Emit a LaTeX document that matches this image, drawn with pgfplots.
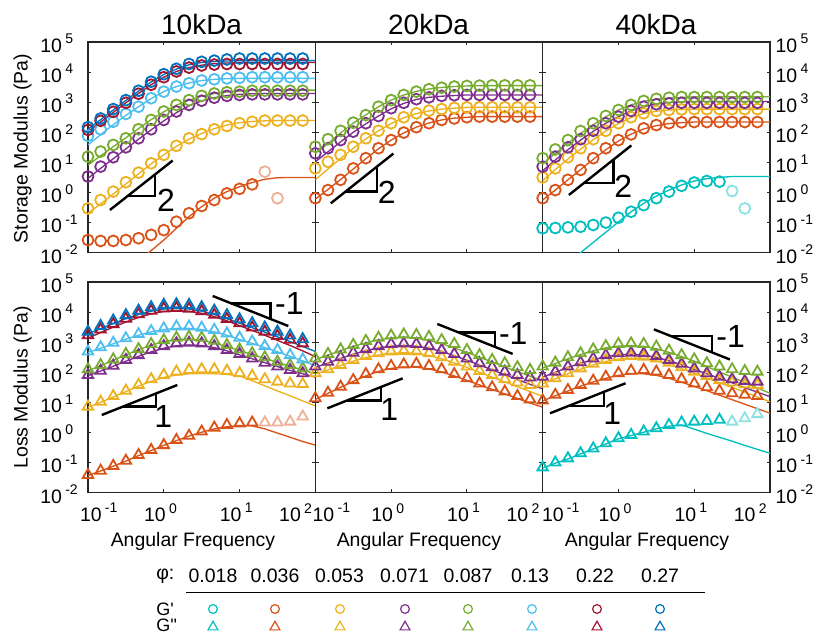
\documentclass[border=0pt]{standalone}
\usepackage{fontspec}
\setmainfont{Liberation Sans}
\newfontfamily\plainsans{Liberation Sans}
\usepackage{pgfplots}
\usepackage{pgfplotstable}
\pgfplotsset{compat=1.18}

% MATLAB default colour order, plus cyan for the lowest phi
\definecolor{cC}{rgb}{0,0.75,0.75}
\definecolor{cO}{rgb}{0.85,0.325,0.098}
\definecolor{cY}{rgb}{0.929,0.694,0.125}
\definecolor{cP}{rgb}{0.494,0.184,0.556}
\definecolor{cG}{rgb}{0.466,0.674,0.188}
\definecolor{cL}{rgb}{0.301,0.745,0.933}
\definecolor{cR}{rgb}{0.635,0.078,0.184}
\definecolor{cB}{rgb}{0,0.447,0.741}
\definecolor{axc}{rgb}{0.15,0.15,0.15}

\newcommand{\tickfont}{\fontsize{14.6}{16}\selectfont}
\newcommand{\slopefont}{\fontsize{24}{28}\selectfont}
\newcommand{\lbl}[1]{10\hspace{2.5pt}\raisebox{6.5pt}{\fontsize{10.5}{11}\selectfont #1}}
% x tick labels placed as MATLAB does: first one starts near the tick, last one ends at it
\newcommand{\lblA}[2]{\makebox[0pt][l]{\hspace{#1}\lbl{#2}}}
\newcommand{\lblB}[1]{\makebox[0pt][c]{\lbl{#1}\hspace{5pt}}}
\newcommand{\lblC}[1]{\makebox[0pt][r]{\lbl{#1}\hspace{2.5pt}}}

\pgfplotsset{
  rhmk/.style={only marks, mark=o, mark size=4.1pt, line width=1.35pt},
  rhtri/.style={only marks, mark=triangle, mark size=4.5pt, line width=1.35pt},
  rhfit/.style={no markers, line width=1pt, line join=round},
  rhslope/.style={black, no markers, line width=1.8pt},
}

% ---------- 10kDa, storage modulus ----------
\pgfplotstableread{
x o y p g l r b
0.1     2.63e-2 2.95e-1 3.39   1.55e1 7.59e1 1.20e2 1.48e2
0.1468  2.45e-2 5.62e-1 7.24   2.29e1 1.26e2 2.40e2 2.88e2
0.2154  2.45e-2 1.07    1.48e1 3.80e1 2.24e2 4.79e2 5.89e2
0.3162  2.63e-2 2.19    3.16e1 6.31e1 4.07e2 9.55e2 1.17e3
0.4642  3.02e-2 4.57    6.31e1 1.26e2 7.08e2 1.91e3 2.40e3
0.6813  3.89e-2 9.33    1.26e2 2.57e2 1.35e3 3.80e3 4.79e3
1       5.62e-2 1.78e1  2.57e2 4.90e2 2.24e3 6.76e3 8.51e3
1.468   1.07e-1 3.55e1  4.90e2 8.13e2 3.31e3 1.05e4 1.29e4
2.154   2.04e-1 6.31e1  8.13e2 1.17e3 4.27e3 1.41e4 1.86e4
3.162   3.55e-1 8.71e1  1.12e3 1.62e3 5.25e3 1.66e4 2.19e4
4.642   5.62e-1 1.26e2  1.41e3 1.95e3 5.75e3 1.78e4 2.40e4
6.813   9.33e-1 1.62e2  1.62e3 2.14e3 6.17e3 1.86e4 2.63e4
10      1.32    2.00e2  1.74e3 2.24e3 6.46e3 1.86e4 2.82e4
14.68   1.86    2.24e2  1.82e3 2.40e3 6.76e3 1.86e4 2.82e4
21.54   nan     2.45e2  1.82e3 2.40e3 6.76e3 1.86e4 2.82e4
31.62   nan     2.45e2  1.82e3 2.40e3 6.76e3 1.86e4 2.82e4
46.42   nan     2.45e2  1.82e3 2.40e3 6.76e3 1.86e4 2.82e4
68.13   nan     2.45e2  1.82e3 2.40e3 6.76e3 1.86e4 2.82e4
}\tAm
\pgfplotstableread{
x o y p g l r b
0.1     nan     2.04e-1 2.95   8.13   3.80e1 1.05e2 1.26e2
0.1468  nan     4.17e-1 6.31   1.66e1 8.32e1 2.19e2 2.63e2
0.2154  nan     8.91e-1 1.32e1 3.31e1 1.78e2 4.57e2 5.50e2
0.3162  nan     1.91    2.82e1 6.61e1 3.63e2 9.55e2 1.15e3
0.4642  5.25e-3 4.17    5.89e1 1.32e2 7.08e2 1.95e3 2.34e3
0.6813  1.17e-2 8.91    1.20e2 2.63e2 1.32e3 3.80e3 4.68e3
1       2.63e-2 1.78e1  2.40e2 4.79e2 2.24e3 6.76e3 8.32e3
1.468   6.46e-2 3.39e1  4.47e2 7.94e2 3.31e3 1.05e4 1.26e4
2.154   1.58e-1 5.89e1  7.59e2 1.17e3 4.37e3 1.41e4 1.74e4
3.162   3.39e-1 9.12e1  1.10e3 1.58e3 5.25e3 1.70e4 2.09e4
4.642   6.46e-1 1.32e2  1.41e3 1.95e3 5.75e3 1.91e4 2.24e4
6.813   1.07    1.74e2  1.66e3 2.19e3 6.03e3 2.00e4 2.34e4
10      1.55    2.09e2  1.82e3 2.34e3 6.17e3 2.09e4 2.40e4
14.68   2.14    2.29e2  1.91e3 2.45e3 6.17e3 2.09e4 2.40e4
21.54   2.75    2.40e2  1.95e3 2.51e3 6.17e3 2.09e4 2.40e4
31.62   3.09    2.45e2  1.95e3 2.51e3 6.17e3 2.09e4 2.40e4
46.42   3.16    2.45e2  1.95e3 2.51e3 6.17e3 2.09e4 2.40e4
68.13   3.16    2.45e2  1.95e3 2.51e3 6.17e3 2.09e4 2.40e4
100     3.16    2.45e2  1.95e3 2.51e3 6.17e3 2.09e4 2.40e4
}\tAl

% ---------- 20kDa, storage modulus ----------
\pgfplotstableread{
x o y p g
0.1     6.46e-1 6.31   2.00e1 3.31e1
0.1468  1.20    1.05e1 2.95e1 5.89e1
0.2154  2.63    1.78e1 5.50e1 1.12e2
0.3162  6.31    3.31e1 1.05e2 2.09e2
0.4642  1.38e1  6.31e1 2.00e2 3.72e2
0.6813  2.95e1  1.12e2 3.47e2 7.08e2
1       5.50e1  2.00e2 6.31e2 1.17e3
1.468   9.77e1  3.16e2 9.55e2 1.74e3
2.154   1.48e2  4.27e2 1.26e3 2.24e3
3.162   2.00e2  5.25e2 1.45e3 2.69e3
4.642   2.57e2  5.89e2 1.62e3 3.02e3
6.813   2.88e2  6.46e2 1.70e3 3.31e3
10      3.16e2  6.76e2 1.74e3 3.47e3
14.68   3.31e2  6.76e2 1.74e3 3.55e3
21.54   3.31e2  6.76e2 1.74e3 3.63e3
31.62   3.31e2  6.76e2 1.74e3 3.63e3
46.42   3.31e2  6.76e2 1.74e3 3.63e3
68.13   3.31e2  6.76e2 1.74e3 3.63e3
}\tBm
\pgfplotstableread{
x o y p g
0.1     6.03e-1 2.63   1.05e1 2.00e1
0.1468  1.26    6.03   2.24e1 4.17e1
0.2154  2.69    1.35e1 4.79e1 9.55e1
0.3162  6.03    2.95e1 1.00e2 2.00e2
0.4642  1.32e1  6.03e1 1.91e2 3.80e2
0.6813  2.82e1  1.12e2 3.47e2 7.08e2
1       5.50e1  1.95e2 6.03e2 1.17e3
1.468   9.55e1  3.02e2 9.12e2 1.74e3
2.154   1.48e2  4.17e2 1.23e3 2.29e3
3.162   2.04e2  5.13e2 1.45e3 2.75e3
4.642   2.57e2  5.89e2 1.58e3 3.09e3
6.813   2.95e2  6.31e2 1.66e3 3.31e3
10      3.16e2  6.76e2 1.74e3 3.47e3
14.68   3.31e2  6.76e2 1.74e3 3.55e3
21.54   3.31e2  6.76e2 1.74e3 3.55e3
31.62   3.31e2  6.76e2 1.74e3 3.55e3
46.42   3.31e2  6.76e2 1.74e3 3.55e3
68.13   3.31e2  6.76e2 1.74e3 3.55e3
100     3.31e2  6.76e2 1.74e3 3.55e3
}\tBl

% ---------- 40kDa, storage modulus ----------
\pgfplotstableread{
x c o y p g
0.1     6.46e-2 6.46e-1 3.16   7.24   1.38e1
0.1468  6.61e-2 1.20    6.31   1.55e1 2.69e1
0.2154  6.92e-2 2.63    1.48e1 3.16e1 5.50e1
0.3162  7.24e-2 5.62    2.95e1 5.89e1 1.10e2
0.4642  8.32e-2 1.38e1  5.89e1 1.12e2 2.00e2
0.6813  1.00e-1 2.95e1  1.12e2 2.00e2 3.47e2
1       1.45e-1 5.50e1  2.00e2 3.31e2 5.50e2
1.468   2.29e-1 8.51e1  3.16e2 5.13e2 8.13e2
2.154   3.80e-1 1.35e2  4.27e2 7.08e2 1.10e3
3.162   6.46e-1 1.74e2  5.13e2 8.51e2 1.29e3
4.642   1.07    2.00e2  5.50e2 9.12e2 1.41e3
6.813   1.66    2.14e2  5.75e2 9.55e2 1.48e3
10      2.14    2.19e2  5.89e2 9.55e2 1.48e3
14.68   2.40    2.19e2  5.89e2 9.55e2 1.48e3
21.54   2.29    2.19e2  5.89e2 9.55e2 1.48e3
31.62   nan     2.19e2  5.89e2 9.55e2 1.48e3
46.42   nan     2.19e2  5.89e2 9.55e2 1.48e3
68.13   nan     2.19e2  5.89e2 9.55e2 1.48e3
}\tCm
\pgfplotstableread{
x c o y p g
0.1     nan     5.62e-1 2.51   5.25   8.91
0.1468  nan     1.20    5.75   1.20e1 2.00e1
0.2154  4.57e-3 2.63    1.29e1 2.63e1 4.37e1
0.3162  1.00e-2 5.75    2.75e1 5.50e1 9.12e1
0.4642  2.19e-2 1.26e1  5.62e1 1.07e2 1.78e2
0.6813  4.79e-2 2.63e1  1.10e2 2.00e2 3.31e2
1       1.05e-1 5.13e1  1.95e2 3.31e2 5.50e2
1.468   2.29e-1 8.71e1  3.09e2 5.13e2 8.13e2
2.154   4.37e-1 1.29e2  4.17e2 7.08e2 1.07e3
3.162   7.59e-1 1.66e2  5.01e2 8.71e2 1.26e3
4.642   1.20    1.95e2  5.50e2 9.77e2 1.38e3
6.813   1.78    2.09e2  5.75e2 1.02e3 1.45e3
10      2.40    2.19e2  5.89e2 1.05e3 1.51e3
14.68   2.88    2.19e2  5.89e2 1.05e3 1.51e3
21.54   3.16    2.19e2  5.89e2 1.05e3 1.51e3
31.62   3.39    2.19e2  5.89e2 1.05e3 1.51e3
46.42   3.39    2.19e2  5.89e2 1.05e3 1.51e3
68.13   3.39    2.19e2  5.89e2 1.05e3 1.51e3
100     3.39    2.19e2  5.89e2 1.05e3 1.51e3
}\tCl

% ---------- 10kDa, loss modulus ----------
\pgfplotstableread{
x o y p g l r b
0.1     3.89e-2 7.24   8.13e1 1.26e2 4.90e2 1.70e3 2.24e3
0.1468  5.37e-2 1.05e1 1.12e2 1.74e2 6.76e2 2.63e3 3.47e3
0.2154  7.76e-2 1.62e1 1.66e2 2.69e2 9.55e2 3.98e3 5.25e3
0.3162  1.15e-1 2.45e1 2.57e2 4.07e2 1.35e3 6.03e3 7.94e3
0.4642  1.78e-1 3.80e1 3.72e2 5.89e2 1.86e3 8.51e3 1.12e4
0.6813  2.63e-1 5.89e1 5.50e2 8.71e2 2.34e3 1.10e4 1.45e4
1       3.80e-1 8.13e1 7.41e2 1.17e3 2.88e3 1.32e4 1.74e4
1.468   5.62e-1 1.05e2 9.12e2 1.41e3 3.31e3 1.38e4 1.82e4
2.154   7.76e-1 1.20e2 9.55e2 1.51e3 3.31e3 1.29e4 1.74e4
3.162   1.07    1.26e2 9.12e2 1.41e3 3.02e3 1.07e4 1.45e4
4.642   1.45    1.26e2 7.41e2 1.12e3 2.57e3 8.13e3 1.12e4
6.813   1.78    1.12e2 5.50e2 8.13e2 1.95e3 5.89e3 7.94e3
10      2.00    9.33e1 4.07e2 5.75e2 1.41e3 4.27e3 5.75e3
14.68   2.14    7.59e1 2.88e2 4.27e2 1.05e3 3.09e3 4.27e3
21.54   nan     5.89e1 2.09e2 3.16e2 7.41e2 2.24e3 3.09e3
31.62   nan     4.90e1 1.55e2 2.24e2 5.50e2 1.62e3 2.24e3
46.42   nan     4.27e1 1.20e2 1.74e2 3.72e2 1.20e3 1.66e3
68.13   nan     4.07e1 9.33e1 1.35e2 2.69e2 9.12e2 1.26e3
}\tDm
\pgfplotstableread{
x o y p g l r b
0.1     3.72e-2 6.92   7.76e1 1.12e2 4.57e2 1.35e3 1.91e3
0.1468  5.25e-2 1.00e1 1.10e2 1.66e2 6.31e2 2.09e3 2.82e3
0.2154  7.59e-2 1.51e1 1.58e2 2.51e2 8.91e2 3.16e3 4.17e3
0.3162  1.12e-1 2.29e1 2.34e2 3.80e2 1.26e3 4.68e3 6.03e3
0.4642  1.70e-1 3.47e1 3.39e2 5.62e2 1.70e3 6.61e3 8.32e3
0.6813  2.51e-1 5.01e1 4.79e2 7.94e2 2.19e3 8.71e3 1.07e4
1       3.72e-1 6.76e1 6.31e2 1.05e3 2.63e3 1.05e4 1.26e4
1.468   5.37e-1 8.13e1 7.59e2 1.23e3 2.88e3 1.12e4 1.32e4
2.154   7.59e-1 8.91e1 8.13e2 1.26e3 2.88e3 1.07e4 1.26e4
3.162   1.02    9.12e1 7.76e2 1.15e3 2.63e3 9.12e3 1.07e4
4.642   1.32    8.91e1 6.61e2 9.33e2 2.19e3 7.08e3 8.32e3
6.813   1.55    8.51e1 5.13e2 7.08e2 1.70e3 5.13e3 6.03e3
10      1.70    7.59e1 3.80e2 5.25e2 1.23e3 3.55e3 4.27e3
14.68   1.66    5.25e1 2.82e2 3.89e2 9.12e2 2.45e3 3.02e3
21.54   1.32    3.55e1 2.09e2 2.88e2 6.61e2 1.70e3 2.14e3
31.62   9.55e-1 2.40e1 1.55e2 2.14e2 4.79e2 1.15e3 1.51e3
46.42   6.92e-1 1.66e1 1.15e2 1.58e2 3.39e2 7.76e2 1.05e3
68.13   5.01e-1 1.12e1 8.91e1 1.20e2 2.40e2 5.13e2 7.24e2
100     3.80e-1 7.59   6.92e1 8.91e1 1.66e2 3.31e2 4.90e2
}\tDl

% ---------- 20kDa, loss modulus ----------
\pgfplotstableread{
x o y p g
0.1     1.38e1 9.33e1 1.55e2 2.88e2
0.1468  2.09e1 1.26e2 2.24e2 4.07e2
0.2154  3.31e1 1.74e2 3.16e2 5.75e2
0.3162  5.50e1 2.57e2 4.47e2 8.13e2
0.4642  8.71e1 3.47e2 5.89e2 1.10e3
0.6813  1.26e2 4.27e2 7.41e2 1.41e3
1       1.62e2 4.90e2 8.71e2 1.66e3
1.468   1.82e2 5.13e2 9.12e2 1.82e3
2.154   1.91e2 4.90e2 8.71e2 1.74e3
3.162   1.62e2 4.27e2 7.41e2 1.51e3
4.642   1.26e2 3.16e2 5.50e2 1.17e3
6.813   8.71e1 2.24e2 4.07e2 8.71e2
10      6.31e1 1.55e2 2.88e2 5.50e2
14.68   4.27e1 1.10e2 2.00e2 3.72e2
21.54   3.16e1 8.13e1 1.48e2 2.57e2
31.62   2.29e1 5.89e1 1.05e2 2.00e2
46.42   1.62e1 4.57e1 8.13e1 1.48e2
68.13   1.26e1 3.80e1 6.76e1 1.20e2
}\tEm
\pgfplotstableread{
x o y p g
0.1     1.26e1 8.71e1 1.45e2 2.63e2
0.1468  2.00e1 1.20e2 2.04e2 3.72e2
0.2154  3.16e1 1.66e2 2.88e2 5.25e2
0.3162  5.01e1 2.34e2 3.98e2 7.24e2
0.4642  7.59e1 3.09e2 5.25e2 9.55e2
0.6813  1.07e2 3.80e2 6.46e2 1.20e3
1       1.35e2 4.27e2 7.41e2 1.38e3
1.468   1.51e2 4.47e2 7.76e2 1.45e3
2.154   1.48e2 4.27e2 7.41e2 1.35e3
3.162   1.29e2 3.63e2 6.31e2 1.15e3
4.642   1.02e2 2.82e2 4.90e2 8.91e2
6.813   7.59e1 2.04e2 3.55e2 6.46e2
10      5.37e1 1.45e2 2.51e2 4.57e2
14.68   3.80e1 1.00e2 1.74e2 3.16e2
21.54   2.69e1 6.92e1 1.20e2 2.19e2
31.62   1.91e1 4.79e1 8.32e1 1.51e2
46.42   1.35e1 3.31e1 5.75e1 1.05e2
68.13   9.55   2.29e1 3.98e1 7.41e1
100     6.92   1.58e1 2.82e1 5.25e1
}\tEl

% ---------- 40kDa, loss modulus ----------
\pgfplotstableread{
x c o y p g
0.1     6.92e-2 1.15e1 4.27e1 7.08e1 1.55e2
0.1468  1.00e-1 1.78e1 6.31e1 1.05e2 2.09e2
0.2154  1.38e-1 2.57e1 9.33e1 1.55e2 3.16e2
0.3162  2.04e-1 3.80e1 1.35e2 2.14e2 4.27e2
0.4642  2.95e-1 5.25e1 1.91e2 2.88e2 5.75e2
0.6813  4.37e-1 7.08e1 2.57e2 3.72e2 7.41e2
1       6.46e-1 9.33e1 3.16e2 4.27e2 8.71e2
1.468   8.32e-1 1.12e2 3.47e2 4.47e2 9.12e2
2.154   1.07    1.20e2 3.31e2 4.27e2 8.71e2
3.162   1.38    1.05e2 2.88e2 3.47e2 7.08e2
4.642   1.78    8.13e1 2.09e2 2.57e2 5.25e2
6.813   2.14    5.89e1 1.48e2 1.91e2 3.72e2
10      2.29    4.27e1 1.05e2 1.35e2 2.69e2
14.68   2.40    3.16e1 7.59e1 9.33e1 2.00e2
21.54   2.63    2.45e1 5.50e1 7.08e1 1.55e2
31.62   nan     2.00e1 4.57e1 5.89e1 1.26e2
46.42   nan     1.78e1 3.98e1 5.13e1 1.10e2
68.13   nan     1.62e1 3.80e1 4.90e1 1.05e2
}\tFm
\pgfplotstableread{
x c o y p g
0.1     6.61e-2 1.12e1 4.17e1 6.92e1 1.41e2
0.1468  9.55e-2 1.66e1 6.03e1 1.00e2 1.95e2
0.2154  1.32e-1 2.40e1 8.91e1 1.45e2 2.82e2
0.3162  1.95e-1 3.47e1 1.26e2 2.00e2 3.89e2
0.4642  2.82e-1 4.79e1 1.74e2 2.63e2 5.13e2
0.6813  4.17e-1 6.31e1 2.29e2 3.31e2 6.46e2
1       6.17e-1 7.94e1 2.75e2 3.80e2 7.41e2
1.468   7.94e-1 8.91e1 2.95e2 3.98e2 7.76e2
2.154   1.02    8.91e1 2.82e2 3.72e2 7.24e2
3.162   1.32    7.94e1 2.40e2 3.16e2 6.03e2
4.642   1.62    6.31e1 1.82e2 2.40e2 4.57e2
6.813   1.78    4.68e1 1.32e2 1.78e2 3.31e2
10      1.29    3.39e1 9.33e1 1.26e2 2.34e2
14.68   9.33e-1 2.45e1 6.46e1 8.91e1 1.55e2
21.54   6.92e-1 1.74e1 4.47e1 6.31e1 1.02e2
31.62   5.13e-1 1.23e1 3.16e1 4.47e1 6.92e1
46.42   3.72e-1 8.71   2.19e1 3.09e1 4.57e1
68.13   2.75e-1 6.17   1.51e1 2.19e1 3.02e1
100     2.04e-1 4.37   1.05e1 1.55e1 2.00e1
}\tFl

\begin{document}
\begin{tikzpicture}
\useasboundingbox (0,0) rectangle (610.5pt,-475.5pt);

\begin{scope}
\pgfplotsset{every axis/.append style={
    scale only axis, width=170.5pt, height=158pt, anchor=north west,
    xmode=log, ymode=log, xmin=0.1, xmax=100, ymin=0.01, ymax=1e5,
    xtick={0.1,1,10,100},
    ytick={0.01,0.1,1,10,100,1000,10000,100000},
    xticklabels={}, yticklabels={},
    minor tick length=0pt,
    major tick length=2.6pt, tick align=inside,
    axis line style={draw=axc, line width=0.8pt},
    major tick style={draw=axc, line width=0.8pt},
    tick label style={font=\tickfont},
    clip=true}}

% ===== top row: G' =====
\begin{axis}[at={(66pt,-31.5pt)},
  yticklabels={\lbl{-2},\lbl{-1},\lbl{0},\lbl{1},\lbl{2},\lbl{3},\lbl{4},\lbl{5}},
  yticklabel style={anchor=west, inner xsep=0pt, xshift=-36pt, yshift=-1pt}]
\addplot[rhmk, cO] table[x=x,y=o]{\tAm};
\addplot[rhmk, cY] table[x=x,y=y]{\tAm};
\addplot[rhmk, cP] table[x=x,y=p]{\tAm};
\addplot[rhmk, cG] table[x=x,y=g]{\tAm};
\addplot[rhmk, cL] table[x=x,y=l]{\tAm};
\addplot[rhmk, cR] table[x=x,y=r]{\tAm};
\addplot[rhmk, cB] table[x=x,y=b]{\tAm};
\addplot[rhmk, cO!45!white] coordinates {(21.54,4.90) (31.62,0.646)};
\addplot[rhfit, cO] table[x=x,y=o]{\tAl};
\addplot[rhfit, cY] table[x=x,y=y]{\tAl};
\addplot[rhfit, cP] table[x=x,y=p]{\tAl};
\addplot[rhfit, cG] table[x=x,y=g]{\tAl};
\addplot[rhfit, cL] table[x=x,y=l]{\tAl};
\addplot[rhfit, cB] table[x=x,y=b]{\tAl};
\addplot[rhfit, cR] table[x=x,y=r]{\tAl};
\addplot[rhslope] coordinates {(0.195,0.263) (1.31,11.5)};
\addplot[rhslope] coordinates {(0.331,0.759) (0.766,0.759) (0.766,4.07)};
\node[font=\slopefont, inner sep=0pt] at (1.07,0.562) {2};
\end{axis}

\begin{axis}[at={(236.5pt,-31.5pt)}]
\addplot[rhmk, cO] table[x=x,y=o]{\tBm};
\addplot[rhmk, cY] table[x=x,y=y]{\tBm};
\addplot[rhmk, cP] table[x=x,y=p]{\tBm};
\addplot[rhmk, cG] table[x=x,y=g]{\tBm};
\addplot[rhfit, cO] table[x=x,y=o]{\tBl};
\addplot[rhfit, cY] table[x=x,y=y]{\tBl};
\addplot[rhfit, cP] table[x=x,y=p]{\tBl};
\addplot[rhfit, cG] table[x=x,y=g]{\tBl};
\addplot[rhslope] coordinates {(0.160,0.437) (1.07,19.6)};
\addplot[rhslope] coordinates {(0.251,1.07) (0.646,1.07) (0.646,7.14)};
\node[font=\slopefont, inner sep=0pt] at (0.875,1.0) {2};
\end{axis}

\begin{axis}[at={(407pt,-31.5pt)}, yticklabel pos=right,
  yticklabels={\lbl{-2},\lbl{-1},\lbl{0},\lbl{1},\lbl{2},\lbl{3},\lbl{4},\lbl{5}},
  yticklabel style={anchor=west, inner xsep=0pt, xshift=4pt, yshift=-1pt}]
\addplot[rhmk, cC] table[x=x,y=c]{\tCm};
\addplot[rhmk, cO] table[x=x,y=o]{\tCm};
\addplot[rhmk, cY] table[x=x,y=y]{\tCm};
\addplot[rhmk, cP] table[x=x,y=p]{\tCm};
\addplot[rhmk, cG] table[x=x,y=g]{\tCm};
\addplot[rhmk, cC!45!white] coordinates {(31.62,1.12) (46.42,0.295)};
\addplot[rhfit, cC] table[x=x,y=c]{\tCl};
\addplot[rhfit, cO] table[x=x,y=o]{\tCl};
\addplot[rhfit, cY] table[x=x,y=y]{\tCl};
\addplot[rhfit, cP] table[x=x,y=p]{\tCl};
\addplot[rhfit, cG] table[x=x,y=g]{\tCl};
\addplot[rhslope] coordinates {(0.222,0.826) (1.48,36.6)};
\addplot[rhslope] coordinates {(0.348,2.02) (0.857,2.02) (0.857,12.3)};
\node[font=\slopefont, inner sep=0pt] at (1.16,1.55) {2};
\end{axis}

% ===== bottom row: G'' =====
\begin{axis}[at={(66pt,-211.5pt)},
  yticklabels={\lbl{-2},\lbl{-1},\lbl{0},\lbl{1},\lbl{2},\lbl{3},\lbl{4},\lbl{5}},
  yticklabel style={anchor=west, inner xsep=0pt, xshift=-36pt, yshift=-1pt},
  xticklabels={\lblA{-6pt}{-1},\lblB{0},\lblB{1},\lblC{2}},
  xticklabel style={anchor=north, inner ysep=0pt, inner xsep=0pt, yshift=-7.75pt}]
\addplot[rhtri, cO] table[x=x,y=o]{\tDm};
\addplot[rhtri, cY] table[x=x,y=y]{\tDm};
\addplot[rhtri, cP] table[x=x,y=p]{\tDm};
\addplot[rhtri, cG] table[x=x,y=g]{\tDm};
\addplot[rhtri, cL] table[x=x,y=l]{\tDm};
\addplot[rhtri, cR] table[x=x,y=r]{\tDm};
\addplot[rhtri, cB] table[x=x,y=b]{\tDm};
\addplot[rhtri, cO!45!white] coordinates {(21.54,2.14) (31.62,2.14) (46.42,2.29) (68.13,3.39)};
\addplot[rhfit, cO] table[x=x,y=o]{\tDl};
\addplot[rhfit, cY] table[x=x,y=y]{\tDl};
\addplot[rhfit, cP] table[x=x,y=p]{\tDl};
\addplot[rhfit, cG] table[x=x,y=g]{\tDl};
\addplot[rhfit, cL] table[x=x,y=l]{\tDl};
\addplot[rhfit, cB] table[x=x,y=b]{\tDl};
\addplot[rhfit, cR] table[x=x,y=r]{\tDl};
\addplot[rhslope] coordinates {(0.152,3.81) (1.51,37.8)};
\addplot[rhslope] coordinates {(0.287,7.21) (0.789,7.21) (0.789,19.8)};
\node[font=\slopefont, inner sep=0pt] at (0.984,3.36) {1};
\addplot[rhslope] coordinates {(4.42,3.43e4) (44.0,3.44e3)};
\addplot[rhslope] coordinates {(7.74,1.95e4) (25.7,1.95e4) (25.7,5.89e3)};
\node[font=\slopefont, inner sep=0pt] at (45.5,1.86e4) {-1};
\end{axis}

\begin{axis}[at={(236.5pt,-211.5pt)},
  xticklabels={\lblA{-2pt}{-1},\lblB{0},\lblB{1},\lblC{2}},
  xticklabel style={anchor=north, inner ysep=0pt, inner xsep=0pt, yshift=-7.75pt}]
\addplot[rhtri, cO] table[x=x,y=o]{\tEm};
\addplot[rhtri, cY] table[x=x,y=y]{\tEm};
\addplot[rhtri, cP] table[x=x,y=p]{\tEm};
\addplot[rhtri, cG] table[x=x,y=g]{\tEm};
\addplot[rhfit, cO] table[x=x,y=o]{\tEl};
\addplot[rhfit, cY] table[x=x,y=y]{\tEl};
\addplot[rhfit, cP] table[x=x,y=p]{\tEl};
\addplot[rhfit, cG] table[x=x,y=g]{\tEl};
\addplot[rhslope] coordinates {(0.144,6.35) (1.42,62.8)};
\addplot[rhslope] coordinates {(0.259,11.4) (0.729,11.4) (0.729,32.2)};
\node[font=\slopefont, inner sep=0pt] at (0.946,5.62) {1};
\addplot[rhslope] coordinates {(4.07,4.03e3) (40.2,4.08e2)};
\addplot[rhslope] coordinates {(7.91,2.07e3) (23.5,2.07e3) (23.5,6.98e2)};
\node[font=\slopefont, inner sep=0pt] at (40.9,1.97e3) {-1};
\end{axis}

\begin{axis}[at={(407pt,-211.5pt)}, yticklabel pos=right,
  yticklabels={\lbl{-2},\lbl{-1},\lbl{0},\lbl{1},\lbl{2},\lbl{3},\lbl{4},\lbl{5}},
  yticklabel style={anchor=west, inner xsep=0pt, xshift=4pt, yshift=-1pt},
  xticklabels={\lblA{-0.5pt}{-1},\lblB{0},\lblB{1},\lblC{2}},
  xticklabel style={anchor=north, inner ysep=0pt, inner xsep=0pt, yshift=-7.75pt}]
\addplot[rhtri, cC] table[x=x,y=c]{\tFm};
\addplot[rhtri, cO] table[x=x,y=o]{\tFm};
\addplot[rhtri, cY] table[x=x,y=y]{\tFm};
\addplot[rhtri, cP] table[x=x,y=p]{\tFm};
\addplot[rhtri, cG] table[x=x,y=g]{\tFm};
\addplot[rhtri, cC!45!white] coordinates {(31.62,2.29) (46.42,2.95) (68.13,4.07)};
\addplot[rhfit, cC] table[x=x,y=c]{\tFl};
\addplot[rhfit, cO] table[x=x,y=o]{\tFl};
\addplot[rhfit, cY] table[x=x,y=y]{\tFl};
\addplot[rhfit, cP] table[x=x,y=p]{\tFl};
\addplot[rhfit, cG] table[x=x,y=g]{\tFl};
\addplot[rhslope] coordinates {(0.125,4.34) (1.24,43.2)};
\addplot[rhslope] coordinates {(0.219,7.59) (0.644,7.59) (0.644,22.3)};
\node[font=\slopefont, inner sep=0pt] at (0.832,4.34) {1};
\addplot[rhslope] coordinates {(2.94,2.67e3) (29.6,2.66e2)};
\addplot[rhslope] coordinates {(4.90,1.61e3) (17.3,1.61e3) (17.3,4.54e2)};
\node[font=\slopefont, inner sep=0pt] at (30.2,1.53e3) {-1};
\end{axis}
\end{scope}

% ===== titles, axis labels and the phi key, in picture pixels =====
\begin{axis}[at={(0pt,0pt)}, anchor=north west, scale only axis,
  width=610.5pt, height=475.5pt, xmin=0, xmax=814, ymin=-634, ymax=0,
  hide axis, clip=false]
\node[font=\fontsize{21}{25}\selectfont] at (201.6,-24) {10kDa};
\node[font=\fontsize{21}{25}\selectfont] at (428.6,-24) {20kDa};
\node[font=\fontsize{21}{25}\selectfont] at (656,-24) {40kDa};
\node[font=\tickfont, rotate=90] at (22.5,-148.5) {Storage Modulus (Pa)};
\node[font=\tickfont, rotate=90] at (22.5,-387.5) {Loss Modulus (Pa)};
\node[font=\tickfont] at (193,-541.7) {Angular Frequency};
\node[font=\tickfont] at (419,-541.7) {Angular Frequency};
\node[font=\tickfont] at (647,-541.7) {Angular Frequency};

\node[font=\tickfont, anchor=west, inner xsep=0pt] at (156,-576) {φ:};
\node[font=\tickfont] at (213,-576) {0.018};
\node[font=\tickfont] at (275,-576) {0.036};
\node[font=\tickfont] at (339.5,-576) {0.053};
\node[font=\tickfont] at (404.5,-576) {0.071};
\node[font=\tickfont] at (468,-576) {0.087};
\node[font=\tickfont] at (530,-576) {0.13};
\node[font=\tickfont] at (595,-576) {0.22};
\node[font=\tickfont] at (660,-576) {0.27};
\draw[black, line width=1pt] (186,-592.3) -- (705,-592.3);
\node[font=\fontsize{13.5}{15}\selectfont\plainsans, anchor=base west, inner sep=0pt, text height=9.8pt, text depth=0pt] at (156,-615) {G'};
\node[font=\fontsize{13.5}{15}\selectfont\plainsans, anchor=base west, inner sep=0pt, text height=9.8pt, text depth=0pt] at (156,-631) {G''};

\addplot[only marks, mark=o, mark size=3.3pt, line width=0.9pt, cC] coordinates {(213,-609)};
\addplot[only marks, mark=o, mark size=3.3pt, line width=0.9pt, cO] coordinates {(275,-609)};
\addplot[only marks, mark=o, mark size=3.3pt, line width=0.9pt, cY] coordinates {(340,-609)};
\addplot[only marks, mark=o, mark size=3.3pt, line width=0.9pt, cP] coordinates {(405,-609)};
\addplot[only marks, mark=o, mark size=3.3pt, line width=0.9pt, cG] coordinates {(468,-609)};
\addplot[only marks, mark=o, mark size=3.3pt, line width=0.9pt, cL] coordinates {(532,-609)};
\addplot[only marks, mark=o, mark size=3.3pt, line width=0.9pt, cR] coordinates {(597,-609)};
\addplot[only marks, mark=o, mark size=3.3pt, line width=0.9pt, cB] coordinates {(660,-609)};
\addplot[only marks, mark=triangle, mark size=4.3pt, line width=0.9pt, cC] coordinates {(213,-627)};
\addplot[only marks, mark=triangle, mark size=4.3pt, line width=0.9pt, cO] coordinates {(275,-627)};
\addplot[only marks, mark=triangle, mark size=4.3pt, line width=0.9pt, cY] coordinates {(340,-627)};
\addplot[only marks, mark=triangle, mark size=4.3pt, line width=0.9pt, cP] coordinates {(405,-627)};
\addplot[only marks, mark=triangle, mark size=4.3pt, line width=0.9pt, cG] coordinates {(468,-627)};
\addplot[only marks, mark=triangle, mark size=4.3pt, line width=0.9pt, cL] coordinates {(532,-627)};
\addplot[only marks, mark=triangle, mark size=4.3pt, line width=0.9pt, cR] coordinates {(597,-627)};
\addplot[only marks, mark=triangle, mark size=4.3pt, line width=0.9pt, cB] coordinates {(660,-627)};
\end{axis}
\end{tikzpicture}
\end{document}
